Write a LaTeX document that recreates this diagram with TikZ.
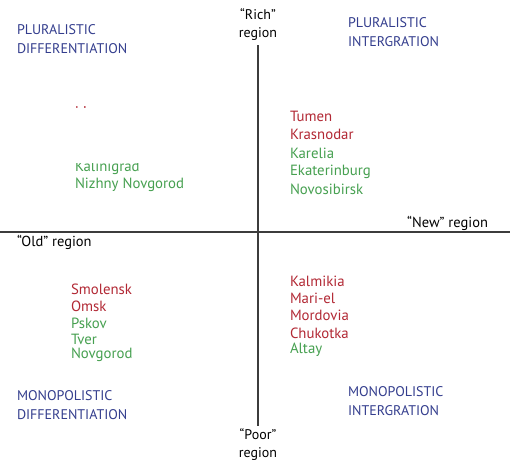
\documentclass[tikz,border=0pt]{standalone}
\usepackage{fontspec}
\setmainfont{PT Sans}
\definecolor{headblue}{RGB}{52,62,142}
\definecolor{regred}{RGB}{178,40,52}
\definecolor{reggreen}{RGB}{70,160,80}
\definecolor{axisgray}{RGB}{60,60,60}
\begin{document}
\begin{tikzpicture}[x=1pt,y=-1pt,
  every node/.style={inner sep=0pt,outer sep=0pt,font=\fontsize{14.5}{16}\selectfont},
  head/.style={anchor=west,text=headblue,align=left,font=\fontsize{14}{18.5}\selectfont},
  red/.style={anchor=west,text=regred,font=\fontsize{14.8}{16}\selectfont},
  green/.style={anchor=west,text=reggreen,font=\fontsize{14.8}{16}\selectfont},
  axislab/.style={text=black,align=center,font=\fontsize{14}{18}\selectfont},
  axis/.style={draw=axisgray,line width=1.4pt}]
\useasboundingbox[fill=white] (0,0) rectangle (510,461);
% quadrant headings
\node[head] (pd) at (17,39) {PLURALISTIC\\DIFFERENTIATION};
\node[head] (pi) at (348,32) {PLURALISTIC\\INTERGRATION};
\node[head] (md) at (17,405) {MONOPOLISTIC\\DIFFERENTIATION};
\node[head] (mi) at (348,401) {MONOPOLISTIC\\INTERGRATION};
% axis labels
\node[axislab] (rich) at (258,25) {“Rich”\\region};
\node[axislab] (poor) at (258,445) {“Poor”\\region};
\node[anchor=east] (new) at (488,223) {“New” region};
\node[anchor=west] (old) at (17,242) {“Old” region};
% axes
\coordinate (vtop) at (258,45);
\coordinate (vbot) at (258,426);
\coordinate (hl) at (0,232);
\coordinate (hr) at (510,232);
\draw[axis] (vtop) -- (vbot);
\draw[axis] (hl) -- (hr);
% upper right
\node[red] (tumen) at (290,116) {Tumen};
\node[red] (krasnodar) at (290,134.5) {Krasnodar};
\node[green] (karelia) at (290,153) {Karelia};
\node[green] (ekat) at (290,171.5) {Ekaterinburg};
\node[green] (novosib) at (290,189) {Novosibirsk};
% upper left (partly hidden)
\begin{scope}
\clip (60,106.8) rectangle (120,109.6);
\node[red] (moscow) at (75,103) {M};
\end{scope}
\begin{scope}
\clip (60,163.5) rectangle (200,180);
\node[green] (kalin) at (75,168) {Kalinigrad};
\end{scope}
\node[green] (nizhny) at (75,185) {Nizhny Novgorod};
% lower left
\node[red] (smolensk) at (71,289) {Smolensk};
\node[red] (omsk) at (71,306.5) {Omsk};
\node[green] (pskov) at (71,323) {Pskov};
\node[green] (tver) at (71,339) {Tver};
\node[green] (novgorod) at (71,355) {Novgorod};
% lower right
\node[red] (kalmikia) at (290,281) {Kalmikia};
\node[red] (mariel) at (290,298.5) {Mari-el};
\node[red] (mordovia) at (290,315.5) {Mordovia};
\node[red] (chukotka) at (290,333.5) {Chukotka};
\node[green] (altay) at (290,350) {Altay};
\end{tikzpicture}
\end{document}
